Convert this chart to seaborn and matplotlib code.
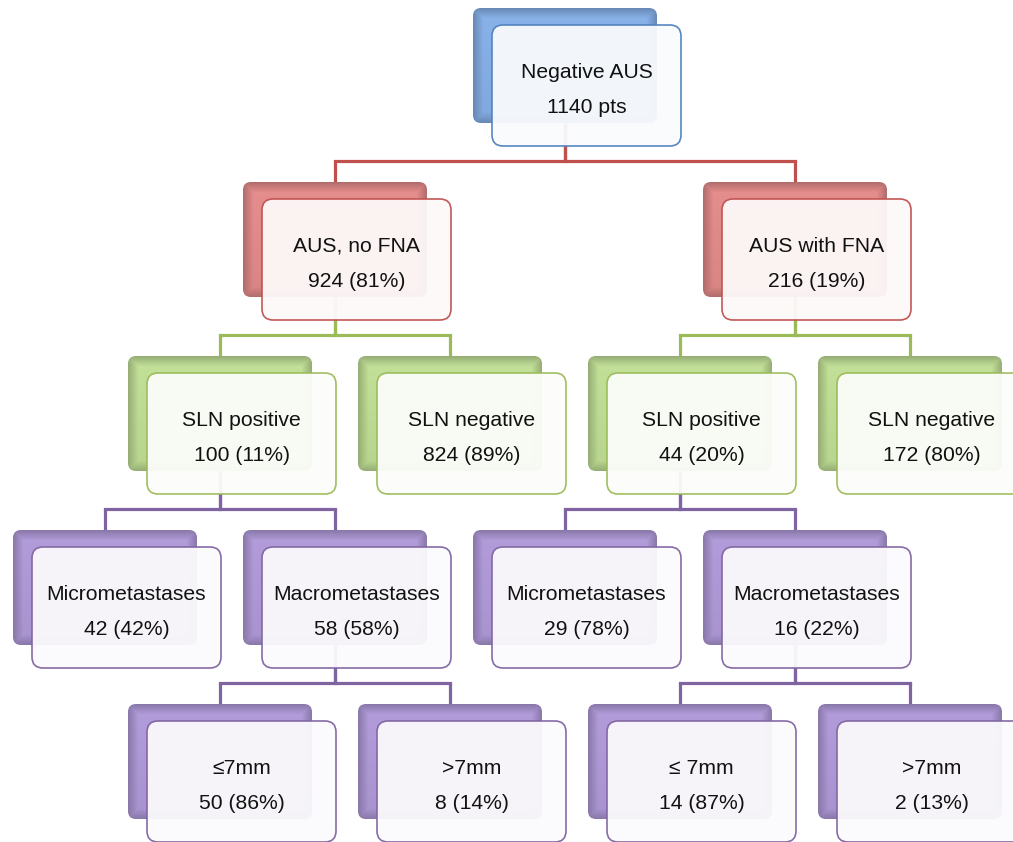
import numpy as np
import matplotlib
matplotlib.use("Agg")
import matplotlib.pyplot as plt
from matplotlib.patches import FancyBboxPatch
from matplotlib.colors import to_rgb
import seaborn as sns

# flow chart of the AUS cohort: titles, counts and the tree structure
titles = ["Negative AUS",
          "AUS, no FNA", "AUS with FNA",
          "SLN positive", "SLN negative", "SLN positive", "SLN negative",
          "Micrometastases", "Macrometastases", "Micrometastases", "Macrometastases",
          "\u22647mm", ">7mm", "\u2264 7mm", ">7mm"]
counts = ["1140 pts",
          "924 (81%)", "216 (19%)",
          "100 (11%)", "824 (89%)", "44 (20%)", "172 (80%)",
          "42 (42%)", "58 (58%)", "29 (78%)", "16 (22%)",
          "50 (86%)", "8 (14%)", "14 (87%)", "2 (13%)"]
parents = [None, 0, 0, 1, 1, 2, 2, 3, 3, 5, 5, 8, 8, 10, 10]
levels = [0, 1, 1, 2, 2, 2, 2, 3, 3, 3, 3, 4, 4, 4, 4]
slots = [4, 2, 6, 1, 3, 5, 7, 0, 2, 4, 6, 1, 3, 5, 7]

# colour theme per level (back box, border/connector)
level_fill = ["#80a8de", "#d98584", "#b8d58f", "#a893cf", "#a893cf"]
level_edge = ["#4f81bd", "#c0504d", "#9bbb59", "#8064a2", "#8064a2"]

sns.set_theme(style="white")
plt.rcParams["font.family"] = ["Liberation Sans", "DejaVu Sans"]

W, H = 1013, 842
fig = plt.figure(figsize=(W / 100, H / 100), dpi=100)
ax = fig.add_axes([0, 0, 1, 1])
ax.set_xlim(0, W)
ax.set_ylim(H, 0)
ax.axis("off")

# layout
x0, dx = 105, 115          # back-box centre of slot 0 and slot step
y0, dy = 8, 174            # back-box top of level 0 and level step
bw, bh = 184, 115          # back box size
fw, fh = 189, 121          # front box size
ox, oy = 19, 17            # front box offset


def back_box(cx, top, color):
    left = cx - bw / 2
    patch = FancyBboxPatch((left + 8, top + 8), bw - 16, bh - 16,
                           boxstyle="round,pad=8", facecolor="none",
                           edgecolor="none", zorder=2)
    ax.add_patch(patch)
    base = np.array(to_rgb(color))
    dark = base * 0.82
    light = np.minimum(base * 1.06 + 0.04, 1)
    yy, xx = np.mgrid[0:bh, 0:bw]
    d = np.minimum.reduce([xx, bw - 1 - xx, yy, bh - 1 - yy]).astype(float)
    f = np.clip(d / 10.0, 0, 1)[..., None]
    vert = (1 - yy / bh)[..., None]
    inner = base * (1 - 0.5 * vert) + light * 0.5 * vert
    img = dark * (1 - f) + inner * f
    im = ax.imshow(img, extent=(left, left + bw, top + bh, top),
                   origin="upper", zorder=2, interpolation="bilinear")
    im.set_clip_path(patch)


def front_box(cx, top, edge, fill, line1, line2):
    left = cx - bw / 2 + ox
    ftop = top + oy
    patch = FancyBboxPatch((left + 11, ftop + 11), fw - 22, fh - 22,
                           boxstyle="round,pad=11", facecolor=fill,
                           edgecolor=edge, linewidth=1.2, alpha=0.95, zorder=3)
    ax.add_patch(patch)
    mx = left + fw / 2
    my = ftop + fh / 2
    ax.text(mx, my - 13, line1, ha="center", va="center", fontsize=15.2,
            color="#111111", zorder=4)
    ax.text(mx, my + 22, line2, ha="center", va="center", fontsize=15.2,
            color="#111111", zorder=4)


# connectors
for i, p in enumerate(parents):
    if p is None:
        continue
    col = level_edge[levels[i]]
    cx = x0 + slots[i] * dx
    px = x0 + slots[p] * dx
    ctop = y0 + levels[i] * dy
    ptop = y0 + levels[p] * dy
    yc = ctop - 21
    ax.plot([px, px], [ptop + bh, yc], color=col, lw=2.3, zorder=1,
            solid_capstyle="butt")
    ax.plot([px, cx], [yc, yc], color=col, lw=2.3, zorder=1,
            solid_capstyle="projecting")
    ax.plot([cx, cx], [yc, ctop + 2], color=col, lw=2.3, zorder=1,
            solid_capstyle="butt")

# boxes
for i in range(len(titles)):
    lv = levels[i]
    cx = x0 + slots[i] * dx
    top = y0 + lv * dy
    back_box(cx, top, level_fill[lv])
    tint = sns.set_hls_values(level_edge[lv], l=0.985)
    front_box(cx, top, level_edge[lv], tint, titles[i], counts[i])

fig.savefig("out.png", dpi=100, facecolor="white")
